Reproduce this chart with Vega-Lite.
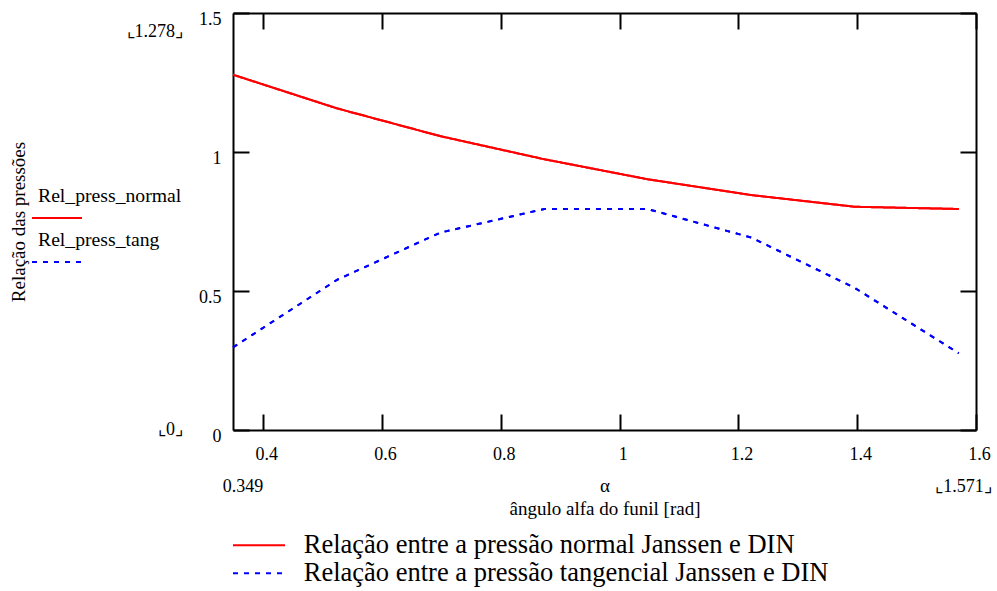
{
  "$schema": "https://vega.github.io/schema/vega-lite/v6.json",
  "width": 743,
  "height": 417,
  "autosize": {"type": "none"},
  "padding": {"left": 233, "top": 13, "right": 21, "bottom": 161},
  "background": "white",
  "config": {
    "view": {"stroke": null},
    "font": "Liberation Serif",
    "axis": {
      "grid": false,
      "domainColor": "black",
      "domainWidth": 2,
      "tickColor": "black",
      "tickWidth": 2,
      "tickSize": -16,
      "labelFont": "Liberation Serif",
      "labelFontSize": 18,
      "labelColor": "black",
      "labelFlush": false,
      "labelOverlap": false,
      "titleFont": "Liberation Serif",
      "titleFontWeight": "normal",
      "titleColor": "black",
      "titleFontSize": 19
    },
    "legend": {
      "labelFont": "Liberation Serif",
      "labelColor": "black",
      "symbolStrokeWidth": 2,
      "symbolType": "stroke",
      "padding": 0,
      "labelLimit": 0
    },
    "text": {"font": "Liberation Serif", "fontSize": 18, "color": "black"}
  },
  "datasets": {
    "curvas": [
      {"alpha": 0.349, "rel": 1.278, "serie": "Relação entre a pressão normal Janssen e DIN", "nome": "Rel_press_normal"},
      {"alpha": 0.524, "rel": 1.157, "serie": "Relação entre a pressão normal Janssen e DIN", "nome": "Rel_press_normal"},
      {"alpha": 0.698, "rel": 1.057, "serie": "Relação entre a pressão normal Janssen e DIN", "nome": "Rel_press_normal"},
      {"alpha": 0.873, "rel": 0.974, "serie": "Relação entre a pressão normal Janssen e DIN", "nome": "Rel_press_normal"},
      {"alpha": 1.047, "rel": 0.902, "serie": "Relação entre a pressão normal Janssen e DIN", "nome": "Rel_press_normal"},
      {"alpha": 1.222, "rel": 0.845, "serie": "Relação entre a pressão normal Janssen e DIN", "nome": "Rel_press_normal"},
      {"alpha": 1.396, "rel": 0.803, "serie": "Relação entre a pressão normal Janssen e DIN", "nome": "Rel_press_normal"},
      {"alpha": 1.571, "rel": 0.795, "serie": "Relação entre a pressão normal Janssen e DIN", "nome": "Rel_press_normal"},
      {"alpha": 0.349, "rel": 0.297, "serie": "Relação entre a pressão tangencial Janssen e DIN", "nome": "Rel_press_tang"},
      {"alpha": 0.524, "rel": 0.540, "serie": "Relação entre a pressão tangencial Janssen e DIN", "nome": "Rel_press_tang"},
      {"alpha": 0.698, "rel": 0.710, "serie": "Relação entre a pressão tangencial Janssen e DIN", "nome": "Rel_press_tang"},
      {"alpha": 0.873, "rel": 0.795, "serie": "Relação entre a pressão tangencial Janssen e DIN", "nome": "Rel_press_tang"},
      {"alpha": 1.047, "rel": 0.795, "serie": "Relação entre a pressão tangencial Janssen e DIN", "nome": "Rel_press_tang"},
      {"alpha": 1.222, "rel": 0.692, "serie": "Relação entre a pressão tangencial Janssen e DIN", "nome": "Rel_press_tang"},
      {"alpha": 1.396, "rel": 0.511, "serie": "Relação entre a pressão tangencial Janssen e DIN", "nome": "Rel_press_tang"},
      {"alpha": 1.571, "rel": 0.276, "serie": "Relação entre a pressão tangencial Janssen e DIN", "nome": "Rel_press_tang"}
    ],
    "limitesY": [
      {"x": 0.265, "y": 1.43, "t": "⌞1.278⌟"},
      {"x": 0.265, "y": 0.0, "t": "⌞0⌟"}
    ],
    "limitesX": [
      {"x": 0.366, "y": -0.205, "t": "0.349"},
      {"x": 1.579, "y": -0.205, "t": "⌞1.571⌟"}
    ]
  },
  "layer": [
    {
      "data": {"name": "curvas"},
      "mark": {"type": "line", "strokeWidth": 2, "clip": false},
      "encoding": {
        "x": {
          "field": "alpha", "type": "quantitative",
          "scale": {"domain": [0.349, 1.6], "nice": false, "zero": false},
          "axis": {
            "orient": "bottom",
            "values": [0.4, 0.6, 0.8, 1, 1.2, 1.4, 1.6],
            "format": "~g",
            "labelPadding": 31,
            "labelOffset": 3,
            "labelBaseline": "top",
            "title": ["α", "ângulo alfa do funil [rad]"],
            "titlePadding": 13,
            "titleLineHeight": 23
          }
        },
        "y": {
          "field": "rel", "type": "quantitative",
          "scale": {"domain": [0, 1.5], "nice": false},
          "axis": {
            "orient": "left",
            "values": [0, 0.5, 1, 1.5],
            "format": "~g",
            "labelPadding": 28,
            "labelOffset": 6,
            "title": "Relação das pressões",
            "titlePadding": 170
          }
        },
        "color": {
          "field": "serie", "type": "nominal",
          "scale": {"domain": ["Relação entre a pressão normal Janssen e DIN", "Relação entre a pressão tangencial Janssen e DIN"], "range": ["#ff0000", "#0000ff"]},
          "legend": {"orient": "none", "legendX": 0, "legendY": 519, "title": null, "symbolType": "M-3.25,0H3.25", "symbolSize": 256, "symbolOffset": 12.75, "labelFontSize": 26.5, "labelOffset": 31.5, "rowPadding": 1}
        },
        "strokeDash": {
          "field": "serie", "type": "nominal",
          "scale": {"domain": ["Relação entre a pressão normal Janssen e DIN", "Relação entre a pressão tangencial Janssen e DIN"], "range": [[1, 0], [5, 6]]},
          "legend": {"orient": "none", "legendX": 0, "legendY": 519, "title": null, "symbolType": "M-3.25,0H3.25", "symbolSize": 256, "symbolOffset": 12.75, "labelFontSize": 26.5, "labelOffset": 31.5, "rowPadding": 1}
        },
        "order": {"field": "alpha"}
      }
    },
    {
      "data": {"name": "curvas"},
      "mark": {"type": "line", "strokeWidth": 2, "clip": false},
      "encoding": {
        "x": {
          "field": "alpha", "type": "quantitative",
          "axis": {"orient": "top", "values": [0.4, 0.6, 0.8, 1, 1.2, 1.4, 1.6], "labels": false, "title": null}
        },
        "y": {
          "field": "rel", "type": "quantitative",
          "axis": {"orient": "right", "values": [0, 0.5, 1, 1.5], "labels": false, "title": null}
        },
        "color": {
          "field": "nome", "type": "nominal",
          "scale": {"domain": ["Rel_press_normal", "Rel_press_tang"], "range": ["#ff0000", "#0000ff"]},
          "legend": {"orient": "none", "legendX": -202, "legendY": 179, "title": null, "symbolSize": 2500, "labelFontSize": 19.7, "labelOffset": -45, "rowPadding": 8,
            "encoding": {"labels": {"baseline": {"value": "line-bottom"}, "lineHeight": {"value": 44}}}}
        },
        "strokeDash": {
          "field": "nome", "type": "nominal",
          "scale": {"domain": ["Rel_press_normal", "Rel_press_tang"], "range": [[1, 0], [5, 6]]},
          "legend": {"orient": "none", "legendX": -202, "legendY": 179, "title": null, "symbolSize": 2500, "labelFontSize": 19.7, "labelOffset": -45, "rowPadding": 8,
            "encoding": {"labels": {"baseline": {"value": "line-bottom"}, "lineHeight": {"value": 44}}}}
        },
        "order": {"field": "alpha"}
      }
    },
    {
      "data": {"name": "limitesY"},
      "mark": {"type": "text", "align": "right", "baseline": "middle"},
      "encoding": {
        "x": {"field": "x", "type": "quantitative", "axis": null},
        "y": {"field": "y", "type": "quantitative", "axis": null},
        "text": {"field": "t"}
      }
    },
    {
      "data": {"name": "limitesX"},
      "mark": {"type": "text", "align": "center", "baseline": "middle"},
      "encoding": {
        "x": {"field": "x", "type": "quantitative", "axis": null},
        "y": {"field": "y", "type": "quantitative", "axis": null},
        "text": {"field": "t"}
      }
    }
  ],
  "resolve": {
    "scale": {"color": "independent", "strokeDash": "independent"},
    "axis": {"x": "independent", "y": "independent"}
  }
}
